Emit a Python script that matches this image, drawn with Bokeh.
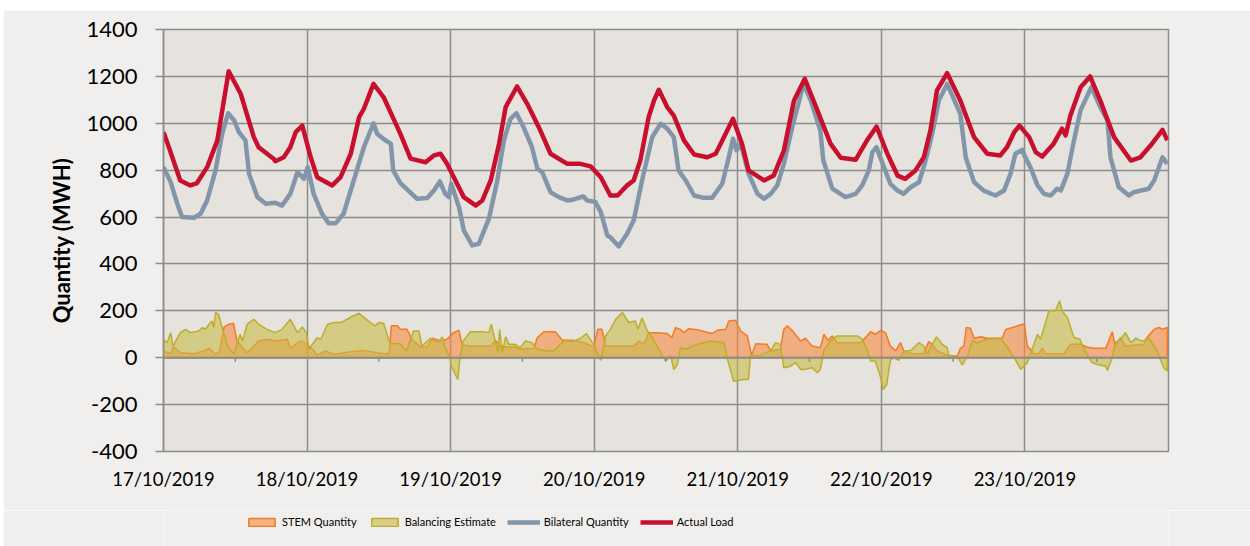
from bokeh.plotting import figure
from bokeh.layouts import column
from bokeh.models import Range1d, FixedTicker, Span, Legend, LegendItem
from bokeh.embed import file_html
from bokeh.resources import INLINE

# ---------------- data (hours since 17/10/2019 00:00, MWh) ----------------
day_labels = ["17/10/2019", "18/10/2019", "19/10/2019", "20/10/2019",
              "21/10/2019", "22/10/2019", "23/10/2019"]
y_ticks = [-400, -200, 0, 200, 400, 600, 800, 1000, 1200, 1400]

load_h = [0, 0.9, 2.8, 4.5, 5.6, 7.3, 9.0, 10.9, 12.9, 15.1, 15.9, 18.4, 18.7, 20.1, 21.2, 22.1, 23.2,
          24.6, 25.7, 28.2, 29.6, 31.3, 32.7, 33.5, 35.1, 36.8, 39.6, 41.3, 43.8, 45.2, 46.3, 47.4,
          48.8, 50.2, 52.2, 53.3, 54.7, 56.1, 57.2, 59.1, 60.8, 63.0, 64.7, 67.5, 69.7, 71.4,
          73.1, 74.7, 75.9, 77.5, 78.6, 79.7, 81.1, 82.0, 82.8, 84.2, 85.3, 87.0, 88.7, 90.9, 92.3, 93.7, 95.2,
          96.7, 97.8, 100.4, 102.0, 103.7, 105.4, 107.2, 109.3, 111.5, 113.2, 115.7, 117.6, 119.2,
          121.0, 122.7, 124.0, 125.7, 127.1, 128.2, 129.3, 131.0, 133.2, 135.5, 137.7, 139.9, 141.0, 142.2, 143.1,
          144.7, 145.8, 146.9, 148.8, 150.2, 150.8, 151.6, 153.3, 154.9, 156.6, 158.9, 161.7, 163.3, 165.0, 167.0, 167.8]
load_v = [962, 898, 756, 735, 745, 813, 927, 1222, 1126, 941, 898, 849, 838, 855, 898, 962, 990,
          855, 770, 735, 770, 870, 1026, 1062, 1168, 1111, 955, 849, 834, 863, 870, 827,
          756, 685, 649, 671, 756, 913, 1069, 1157, 1083, 969, 870, 827, 827, 816,
          770, 692, 692, 735, 756, 841, 1026, 1097, 1143, 1069, 1033, 927, 867, 855, 870, 941, 1019,
          913, 799, 756, 777, 884, 1097, 1190, 1055, 913, 853, 844, 927, 986,
          870, 777, 763, 799, 855, 969, 1140, 1214, 1097, 941, 870, 863, 898, 962, 990,
          941, 877, 858, 913, 977, 948, 1033, 1154, 1200, 1097, 941, 841, 855, 905, 972, 927]

bil_h = [0, 1.2, 2.3, 3.1, 5.1, 6.2, 7.3, 8.7, 9.8, 10.8, 11.8, 12.6, 13.7, 14.3, 15.7, 17.1, 18.7, 19.8,
         21.2, 22.4, 23.5, 24.1, 25.1, 26.5, 27.6, 28.8, 30.1, 31.8, 33.5, 35.1, 35.7, 37.1, 38.0, 38.4,
         39.6, 42.4, 44.1, 45.2, 46.2, 47.1, 47.7, 48.1, 49.4, 50.2, 51.6, 52.7, 54.4, 55.8, 56.9, 58.0,
         59.0, 60.2, 61.6, 62.5, 63.3, 64.7, 66.1, 67.5, 68.6, 70.2, 70.8, 72.2, 73.1, 74.2, 74.7, 76.1,
         77.5, 78.6, 80.0, 81.7, 83.1, 84.2, 85.3, 86.1, 87.3, 88.7, 90.3, 91.7, 93.4, 94.5, 95.2, 95.8,
         96.5, 97.8, 99.3, 100.4, 101.5, 102.6, 103.7, 105.1, 107.0, 108.2, 109.8, 110.3, 111.8, 114.0,
         115.7, 116.8, 117.9, 118.5, 119.2, 119.7, 121.5, 122.7, 123.7, 124.9, 126.3, 127.4, 128.5, 129.6,
         131.0, 133.2, 134.1, 135.5, 137.1, 139.1, 140.5, 141.6, 142.4, 143.6, 143.9, 144.9, 146.1, 147.2,
         148.3, 149.4, 150.0, 151.1, 152.2, 153.3, 155.1, 156.6, 157.8, 158.3, 159.7, 161.4, 162.2, 164.7,
         165.6, 167.0, 167.8]
bil_v = [813, 749, 657, 600, 597, 614, 671, 799, 955, 1043, 1012, 962, 927, 785, 685, 657, 661, 649,
         699, 792, 763, 813, 699, 614, 574, 574, 614, 756, 898, 1000, 955, 927, 913, 799,
         745, 678, 681, 713, 752, 699, 685, 742, 642, 543, 479, 486, 593, 756, 927, 1019,
         1043, 983, 898, 806, 792, 706, 685, 671, 675, 688, 671, 664, 621, 521, 514, 475,
         529, 585, 756, 941, 998, 977, 941, 799, 756, 692, 682, 682, 742, 855, 934, 884,
         913, 785, 699, 678, 699, 735, 827, 983, 1168, 1097, 969, 841, 721, 685,
         699, 735, 799, 877, 898, 863, 742, 713, 699, 727, 749, 841, 955, 1097,
         1168, 1040, 855, 749, 713, 692, 713, 785, 870, 887, 863, 813, 735, 699,
         692, 721, 713, 785, 927, 1055, 1154, 1069, 1012, 855, 727, 692, 706, 721,
         756, 855, 827]

stem_h = [0, 1.2, 1.7, 2.8, 5.1, 6.7, 7.6, 8.1, 8.7, 9.4, 10.1, 10.9, 11.7, 12.3, 13.2, 14.0, 15.1, 15.9,
          17.3, 19.0, 20.7, 21.2, 22.4, 23.2, 24.0, 25.1, 25.7, 27.1, 28.5, 31.3, 33.2, 34.6, 36.8, 37.7,
          38.1, 39.1, 39.6, 40.7, 41.6, 43.0, 44.1, 44.9, 46.3, 47.4, 48.5, 49.4, 49.9, 50.8, 54.7, 55.5,
          56.3, 57.5, 58.8, 59.7, 61.9, 62.5, 63.6, 65.5, 66.7, 68.6, 70.3, 71.9, 72.6, 73.3, 73.9, 78.6,
          79.5, 80.3, 81.1, 82.5, 84.2, 85.0, 85.6, 86.4, 87.0, 87.8, 89.2, 91.7, 92.6, 94.0, 94.5, 95.6,
          96.5, 97.6, 98.3, 99.0, 100.9, 101.5, 103.1, 103.7, 104.3, 105.4, 106.5, 107.3, 108.4, 109.8,
          110.4, 111.1, 111.8, 112.6, 116.5, 117.6, 118.2, 119.0, 119.9, 120.7, 121.5, 122.4, 123.2, 123.8,
          125.4, 127.1, 127.9, 128.5, 129.3, 131.0, 132.7, 133.2, 133.8, 134.2, 134.9, 135.5, 136.6, 137.7,
          140.2, 140.8, 142.2, 143.6, 143.9, 144.4, 144.9, 145.5, 146.3, 146.9, 147.4, 150.5, 151.6, 153.3,
          154.4, 155.5, 157.5, 158.0, 158.6, 159.1, 160.0, 160.8, 163.9, 164.4, 165.6, 166.4, 167.0, 167.8]
stem_v = [29, 17, 46, 21, 17, 29, 40, 29, 14, 29, 129, 143, 147, 71, 43, 21, 50, 71,
          79, 71, 79, 40, 64, 71, 57, 31, 11, 29, 14, 26, 31, 26, 17, 17,
          136, 136, 121, 121, 75, 46, 46, 83, 71, 79, 107, 117, 57, 50, 50, 74,
          50, 46, 46, 36, 40, 86, 111, 111, 74, 74, 64, 46, 121, 121, 50, 50,
          71, 57, 107, 107, 103, 86, 129, 121, 107, 124, 119, 103, 117, 121, 157, 160,
          114, 93, 11, 60, 57, 29, 36, 121, 136, 107, 71, 83, 50, 43,
          100, 74, 93, 64, 64, 93, 111, 100, 117, 107, 50, 29, 64, 26,
          17, 17, 69, 57, 29, 11, 7, 40, 50, 129, 126, 83, 89, 83,
          83, 121, 131, 143, 143, 50, 36, 17, 17, 40, 17, 17, 57, 57,
          46, 40, 40, 71, 111, 50, 86, 50, 57, 86, 121, 129, 121, 129]

bal_h = [0, 0.6, 1.2, 1.6, 2.8, 3.7, 4.5, 5.9, 6.5, 7.0, 7.6, 8.1, 8.4, 8.7, 9.2, 9.8, 10.7, 11.8, 12.3,
         12.8, 13.2, 14.0, 15.1, 15.9, 17.3, 18.7, 19.8, 21.2, 22.4, 23.2, 23.9, 24.3, 25.7, 26.3, 27.4,
         28.5, 29.6, 30.7, 31.8, 32.7, 33.5, 34.6, 35.4, 36.0, 36.8, 37.7, 38.1, 39.6, 40.6, 41.8, 42.7,
         43.2, 44.6, 45.8, 46.6, 47.1, 47.9, 48.1, 49.2, 49.5, 50.1, 51.3, 53.6, 54.4, 54.8, 55.5, 55.9,
         56.2, 56.6, 57.2, 57.7, 58.8, 59.6, 60.5, 61.6, 62.5, 64.1, 65.3, 66.9, 68.6, 69.7, 70.7, 71.9,
         73.1, 73.9, 74.7, 75.6, 76.7, 77.8, 78.9, 79.3, 80.0, 80.9, 81.7, 82.8, 83.9, 84.8, 85.3, 85.9,
         86.4, 87.3, 88.4, 90.3, 91.4, 93.7, 94.2, 95.3, 97.0, 97.8, 98.1, 99.8, 101.5, 102.3, 103.1, 103.7,
         104.8, 105.7, 106.5, 107.1, 108.4, 109.3, 109.8, 110.4, 111.5, 112.6, 113.7, 116.0, 116.8, 117.6,
         118.2, 119.0, 119.9, 120.3, 120.9, 121.5, 122.1, 122.9, 123.8, 124.9, 126.3, 127.1, 127.7, 128.5,
         129.2, 130.2, 131.0, 131.3, 132.7, 133.5, 134.4, 135.2, 136.0, 137.7, 139.9, 141.3, 142.2, 143.3,
         144.4, 145.5, 146.1, 146.6, 147.2, 148.0, 149.1, 149.8, 150.2, 151.1, 152.2, 153.2, 153.9, 155.2,
         156.1, 157.5, 157.8, 158.6, 159.1, 160.0, 160.8, 161.7, 162.5, 163.6, 164.7, 166.1, 167.2, 167.8]
bal_v = [79, 64, 107, 50, 107, 121, 107, 114, 129, 121, 143, 157, 129, 193, 186, 129, 50, 14, 57,
         100, 71, 143, 164, 143, 121, 107, 121, 164, 107, 131, 107, 36, 86, 79, 143,
         150, 150, 164, 179, 190, 171, 150, 136, 150, 147, 71, 61, 60, 29, 114, 114,
         50, 83, 64, 89, 43, 0, -36, -93, -14, 71, 111, 111, 107, 143, 64, 26,
         121, 21, 89, 57, 57, 43, 71, 64, 36, 29, 31, 71, 71, 83, 103, 57,
         -11, 93, 121, 164, 193, 150, 157, 121, 169, 114, 86, 36, -14, 7, -50, -29,
         43, 36, 50, 64, 71, 64, 0, -100, -93, -93, 7, 11, 29, 64, 57, -43,
         -36, -21, -50, -50, -43, -64, -50, 31, 71, 93, 93, 93, 79, 36,
         -14, -14, -86, -136, -114, -11, 0, -11, 29, 31, 64, 50, 14, 57,
         89, 57, 43, 7, 7, -31, 7, 71, 64, 79, 83, 36, 0, -50,
         -21, 57, 100, 79, 129, 200, 200, 243, 200, 171, 86, 79, 36, -21,
         -29, -36, -54, 0, 64, 79, 107, 64, 83, 71, 83, 29, -43, -57]

series_names = ["STEM Quantity", "Balancing Estimate", "Bilateral Quantity", "Actual Load"]

assert len(load_h) == len(load_v)
assert len(bil_h) == len(bil_v)
assert len(stem_h) == len(stem_v)
assert len(bal_h) == len(bal_v)

# ---------------- styling ----------------
FONT = "Lato"
GRID = "#8C8C8C"
OUTER = "#F0EFED"
STEM_STYLE = dict(fill_color="#F7883F", fill_alpha=0.6, line_color="#F47B20", line_width=1.5)
BAL_STYLE = dict(fill_color="#C8BA48", fill_alpha=0.6, line_color="#BDAE2A", line_width=1.5)
BIL_STYLE = dict(line_color="#8396A9", line_width=4.5, line_join="round")
LOAD_STYLE = dict(line_color="#C8102E", line_width=4.5, line_join="round")

p = figure(width=1247, height=500, output_backend="svg", toolbar_location=None,
           x_range=Range1d(0, 168), y_range=Range1d(-400, 1400),
           min_border_left=160, min_border_right=82, min_border_top=19, min_border_bottom=59)
p.background_fill_color = "#E6E3DF"
p.border_fill_color = OUTER
p.outline_line_color = GRID
p.outline_line_width = 1.5

day_ticks = [24 * i for i in range(len(day_labels))]
p.xaxis.ticker = FixedTicker(ticks=day_ticks)
p.xaxis.major_label_overrides = {t: lab for t, lab in zip(day_ticks, day_labels)}
p.xaxis.axis_line_color = None
p.xaxis.major_tick_line_color = None
p.xaxis.minor_tick_line_color = None
p.xaxis.major_tick_out = 0
p.xaxis.major_label_standoff = 16
p.xaxis.major_label_text_font = FONT
p.xaxis.major_label_text_font_size = "18.5px"
p.xaxis.major_label_text_color = "#000000"

p.yaxis.ticker = FixedTicker(ticks=y_ticks)
p.yaxis.major_label_overrides = {t: str(t) for t in y_ticks}
p.yaxis.axis_line_color = GRID
p.yaxis.axis_line_width = 1.5
p.yaxis.major_tick_line_color = GRID
p.yaxis.major_tick_line_width = 1.5
p.yaxis.major_tick_out = 8
p.yaxis.major_tick_in = 0
p.yaxis.minor_tick_line_color = None
p.yaxis.major_label_standoff = 18
p.yaxis.major_label_text_font = FONT
p.yaxis.major_label_text_font_size = "22px"
p.yaxis.major_label_text_color = "#000000"
p.yaxis.axis_label = "Quantity (MWH)"
p.yaxis.axis_label_text_font = FONT
p.yaxis.axis_label_text_font_style = "bold"
p.yaxis.axis_label_text_font_size = "22px"
p.yaxis.axis_label_text_color = "#000000"
p.yaxis.axis_label_standoff = 8

p.xgrid.ticker = FixedTicker(ticks=day_ticks)
p.grid.grid_line_color = GRID
p.grid.grid_line_width = 1.5

# areas
p.patch([stem_h[0]] + stem_h + [stem_h[-1]], [0] + stem_v + [0], **STEM_STYLE)
p.patch([bal_h[0]] + bal_h + [bal_h[-1]], [0] + bal_v + [0], **BAL_STYLE)

# zero axis line and mid-day tick marks
p.add_layout(Span(location=0, dimension="width", line_color=GRID, line_width=2))
mid = [t + 12 for t in day_ticks]
p.segment(x0=mid, y0=[0] * len(mid), x1=mid, y1=[-17] * len(mid), line_color=GRID, line_width=1.5)

p.line(bil_h, bil_v, **BIL_STYLE)
p.line(load_h, load_v, **LOAD_STYLE)

# ---------------- legend strip below the chart ----------------
# proxy renderers reuse the same series, kept out of this strip's view range
leg = figure(width=1247, height=36, output_backend="svg", toolbar_location=None,
             x_range=Range1d(0, 168), y_range=Range1d(5000, 5001), x_axis_type=None, y_axis_type=None,
             min_border_left=0, min_border_right=0, min_border_top=0, min_border_bottom=0)
leg.background_fill_color = OUTER
leg.border_fill_color = OUTER
leg.outline_line_color = None
leg.grid.visible = False
r_stem = leg.patch(stem_h, stem_v, **STEM_STYLE)
r_bal = leg.patch(bal_h, bal_v, **BAL_STYLE)
r_bil = leg.line(bil_h, bil_v, **BIL_STYLE)
r_load = leg.line(load_h, load_v, **LOAD_STYLE)

legend = Legend(items=[LegendItem(label=n, renderers=[r]) for n, r in
                       zip(series_names, [r_stem, r_bal, r_bil, r_load])],
                orientation="horizontal", location=(82, 18),
                padding=0, margin=0, spacing=11, glyph_width=33, glyph_height=10,
                label_standoff=4, label_text_font=FONT, label_text_font_size="11px",
                label_text_color="#000000",
                background_fill_alpha=0, border_line_color=None)
leg.add_layout(legend, "center")

layout = column(p, leg, spacing=0)
layout.margin = (10, 0, 0, 3)
open("out.html", "w").write(file_html(layout, INLINE))
